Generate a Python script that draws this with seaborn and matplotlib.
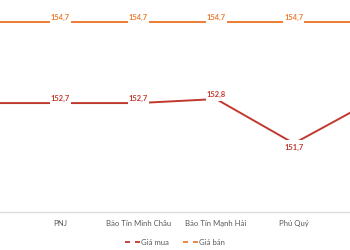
import matplotlib
matplotlib.use("Agg")
import matplotlib.pyplot as plt
import seaborn as sns
import pandas as pd
from matplotlib.lines import Line2D
from matplotlib.path import Path

categories = ["DOJI", "PNJ", "Bảo Tín Minh Châu", "Bảo Tín Mạnh Hải", "Phú Quý", "SJC"]
gia_mua = [152.7, 152.7, 152.7, 152.8, 151.7, 152.75]
gia_ban = [154.7, 154.7, 154.7, 154.7, 154.7, 154.7]
series_names = ["Giá mua", "Giá bán"]
colors = {"Giá mua": "#C0392E", "Giá bán": "#ED7D31"}

sns.set_theme(style="white")
plt.rcParams["font.family"] = ["Lato", "DejaVu Sans"]


def label_box(x0, y0, width, height, mutation_size):
    px = 0.12 * mutation_size
    py = 0.45 * mutation_size
    x1, y1 = x0 + width + px, y0 + height + py
    x0, y0 = x0 - px, y0 - py
    return Path([(x0, y0), (x1, y0), (x1, y1), (x0, y1), (x0, y0)], closed=True)


rows = []
for i, c in enumerate(categories):
    rows.append({"idx": i, "cat": c, "series": "Giá mua", "value": gia_mua[i]})
    rows.append({"idx": i, "cat": c, "series": "Giá bán", "value": gia_ban[i]})
df = pd.DataFrame(rows)

fig = plt.figure(figsize=(3.5, 2.5), dpi=100)
ax = fig.add_axes([0, 0.152, 1, 0.848])
sns.lineplot(data=df, x="idx", y="value", hue="series", palette=colors,
             linewidth=1.4, ax=ax, legend=False, sort=False)

ax.set_xticks(range(len(categories)))
ax.set_xticklabels(categories, fontsize=5.6, color="#595959")
ax.set_xlim(0.222, 4.721)
ax.set_ylim(150, 155.255)

for s, vals in (("Giá mua", gia_mua), ("Giá bán", gia_ban)):
    for i, v in enumerate(vals):
        below = (s == "Giá mua" and i > 0 and i < len(vals) - 1
                 and v < vals[i - 1] and v < vals[i + 1])
        off, va = (-0.3, "top") if below else (1.8, "baseline")
        ax.annotate(f"{v:.1f}".replace(".", ","), (i, v), xytext=(0, off),
                    textcoords="offset points", ha="center", va=va,
                    fontsize=5.4, fontweight="bold", color=colors[s],
                    bbox=dict(boxstyle=label_box, fc="white", ec="none"),
                    annotation_clip=True)

ax.tick_params(axis="x", length=0, pad=6)
ax.set_yticks([])
ax.set_xlabel("")
ax.set_ylabel("")
for side in ("top", "left", "right"):
    ax.spines[side].set_visible(False)
ax.spines["bottom"].set_color("#D9D9D9")
ax.spines["bottom"].set_linewidth(0.9)

handles = [Line2D([], [], color=colors[n], lw=1.3, ls=(0, (2.77, 2.77))) for n in series_names]
fig.legend(handles, series_names, loc="center", bbox_to_anchor=(0.5, 0.03),
           ncol=2, frameon=False, fontsize=5.6, handlelength=1.95,
           handletextpad=0.1, columnspacing=1.8, labelcolor="#595959")

fig.savefig("out.png", dpi=100)
